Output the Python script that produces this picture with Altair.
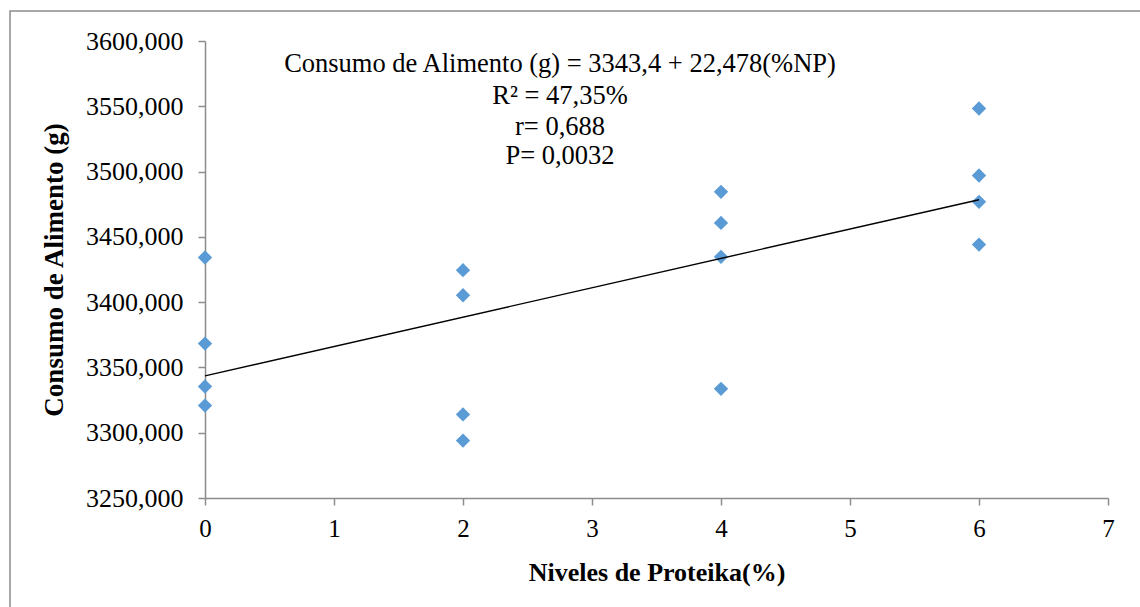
import altair as alt
import pandas as pd

# Data
niveles = [0, 0, 0, 0, 2, 2, 2, 2, 4, 4, 4, 4, 6, 6, 6, 6]
consumo = [3434.2, 3368.3, 3335.4, 3320.8,
           3424.5, 3405.3, 3314.0, 3294.0,
           3484.5, 3460.7, 3434.7, 3333.6,
           3548.3, 3497.0, 3476.8, 3444.1]
x_ticks = [0, 1, 2, 3, 4, 5, 6, 7]
y_ticks = [3250, 3300, 3350, 3400, 3450, 3500, 3550, 3600]
anotacion = ["Consumo de Alimento (g) = 3343,4 + 22,478(%NP)",
             "R\u00b2 = 47,35%",
             "r= 0,688",
             "P= 0,0032"]
anot_y = [23, 55, 86, 115]

df = pd.DataFrame({"x": niveles, "y": consumo})
df_txt = pd.DataFrame({"t": anotacion, "py": anot_y})

FONT = "Liberation Serif"
AXIS_COLOR = "#8c8c8c"

x_scale = alt.Scale(domain=[0, 7], nice=False, zero=False)
y_scale = alt.Scale(domain=[3250, 3600], nice=False, zero=False)

x_enc = alt.X("x:Q", scale=x_scale,
              axis=alt.Axis(values=x_ticks, format="d", title="Niveles de Proteika(%)",
                            grid=False, domainColor=AXIS_COLOR, tickColor=AXIS_COLOR,
                            domainWidth=1.5, tickWidth=1.5, tickSize=7,
                            labelFlush=False,
                            labelFont=FONT, labelFontSize=25, labelColor="black",
                            labelPadding=11,
                            titleFont=FONT, titleFontSize=26, titleFontWeight="bold",
                            titleColor="black", titlePadding=18))
y_enc = alt.Y("y:Q", scale=y_scale,
              axis=alt.Axis(values=y_ticks, title="Consumo de Alimento (g)",
                            labelExpr="replace(format(datum.value, '.3f'), '.', ',')",
                            grid=False, domainColor=AXIS_COLOR, tickColor=AXIS_COLOR,
                            domainWidth=1.5, tickWidth=1.5, tickSize=7,
                            labelFlush=False,
                            labelFont=FONT, labelFontSize=26, labelColor="black",
                            labelPadding=15,
                            titleFont=FONT, titleFontSize=27, titleFontWeight="bold",
                            titleColor="black", titlePadding=17))

base = alt.Chart(df)

points = base.mark_point(shape="diamond", filled=True, size=205,
                         color="#5b9bd5", opacity=1).encode(x=x_enc, y=y_enc)

reg = base.transform_regression("x", "y", extent=[0, 6]).mark_line(
    color="black", strokeWidth=1.4).encode(x=x_enc, y=y_enc)

txt = alt.Chart(df_txt).mark_text(font=FONT, fontSize=26.5, color="black",
                                  align="center", baseline="middle").encode(
    x=alt.value(355), y=alt.Y("py:Q", scale=None), text="t:N")

border = alt.Chart(pd.DataFrame({"a": [0]})).mark_rect(
    fillOpacity=0, stroke="#8c8c8c", strokeWidth=1.5, clip=False).encode(
    x=alt.value(-195), x2=alt.value(945), y=alt.value(-30), y2=alt.value(580))

chart = alt.layer(border, points, reg, txt).properties(
    width=903, height=457,
    autosize=alt.AutoSizeParams(type="none"),
    padding={"left": 205, "top": 41, "right": 32, "bottom": 109},
).configure(background="white").configure_view(stroke=None).configure_axis(grid=False)

chart.save("out.html", embed_options={"renderer": "svg", "actions": False})
